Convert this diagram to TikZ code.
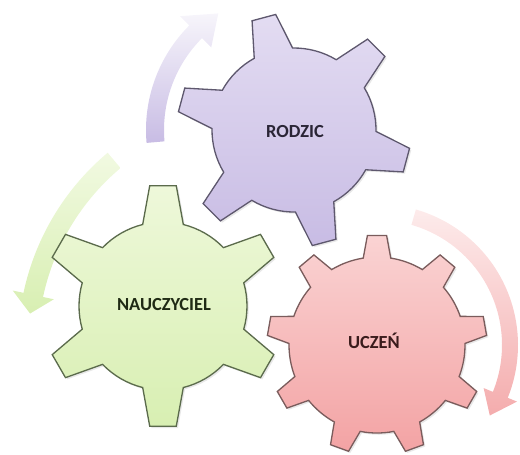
\documentclass[tikz,border=0pt]{standalone}
\usepackage{fontspec}
\setsansfont{Carlito}
\usepackage{tikz}
\usetikzlibrary{shadows}

\definecolor{lilactop}{HTML}{E3DCF2}
\definecolor{lilacbot}{HTML}{C8BCE4}
\definecolor{lilacline}{HTML}{5E586E}
\definecolor{lilactext}{HTML}{2A2536}
\definecolor{greentop}{HTML}{EEF8DA}
\definecolor{greenbot}{HTML}{D8EFB2}
\definecolor{greenline}{HTML}{5B6B4C}
\definecolor{greentext}{HTML}{1F2A14}
\definecolor{pinktop}{HTML}{FAD3D3}
\definecolor{pinkbot}{HTML}{F3A3A4}
\definecolor{pinkline}{HTML}{7A5C5C}
\definecolor{pinktext}{HTML}{3A1C1C}

% gear: style, centre, teeth, first tooth angle, inner r, outer r, half base angle, half top angle
\newcommand{\drawgear}[8]{%
  \begin{scope}[shift={#2}]
    \pgfmathsetmacro{\gstep}{360/#3}
    \path[#1] ({#4-#7}:#5)
      \foreach \k in {1,...,#3}{
        -- ({#4+(\k-1)*\gstep-#8}:#6) -- ({#4+(\k-1)*\gstep+#8}:#6)
        -- ({#4+(\k-1)*\gstep+#7}:#5)
        arc[start angle={#4+(\k-1)*\gstep+#7}, end angle={#4+\k*\gstep-#7}, radius=#5]
      } -- cycle;
  \end{scope}}

% ring arrow: style, centre, r, half width, half head, tail angle, head angle, tip angle
\newcommand{\drawringarrow}[8]{%
  \begin{scope}[shift={#2}]
    \path[#1] ({#6}:{#3+#4}) arc[start angle=#6, end angle=#7, radius={#3+#4}]
      -- ({#7}:{#3+#5}) -- ({#8}:{#3}) -- ({#7}:{#3-#5}) -- ({#7}:{#3-#4})
      arc[start angle=#7, end angle=#6, radius={#3-#4}] -- cycle;
  \end{scope}}

\begin{document}
\begin{tikzpicture}[x=0.02cm, y=-0.02cm,
  gear/.style={line width=0.75pt, drop shadow={opacity=0.18, shadow xshift=1pt, shadow yshift=-1pt}},
  geartext/.style={font=\sffamily\bfseries\fontsize{10.5}{12}\selectfont, inner sep=1pt}
]
\useasboundingbox (0,0) rectangle (520,454);

\drawringarrow{top color=lilacbot!15, bottom color=lilacbot}{(294,130)}{139}{9}{22}{175}{225}{237}
\drawringarrow{top color=greentop!80, bottom color=greenbot}{(269,345)}{241}{10}{21}{230}{192}{187.5}
\drawringarrow{top color=pinktop!45, bottom color=pinkbot!90}{(377,345)}{133}{8}{18}{-74}{22}{32}

\drawgear{gear, draw=greenline, top color=greentop, bottom color=greenbot}{(163,306)}{6}{-90}{84}{121}{14}{6.3}
\drawgear{gear, draw=lilacline, top color=lilactop, bottom color=lilacbot}{(294,130)}{6}{15}{82}{117}{14}{6}
\drawgear{gear, draw=pinkline, top color=pinktop, bottom color=pinkbot}{(377,345)}{9}{-90}{88}{110}{9}{5}

\node[geartext, text=lilactext] (rodzic) at (295,132) {RODZIC};
\node[geartext, text=greentext] (nauczyciel) at (164,305) {NAUCZYCIEL};
\node[geartext, text=pinktext] (uczen) at (374,341) {UCZEŃ};
\end{tikzpicture}
\end{document}
